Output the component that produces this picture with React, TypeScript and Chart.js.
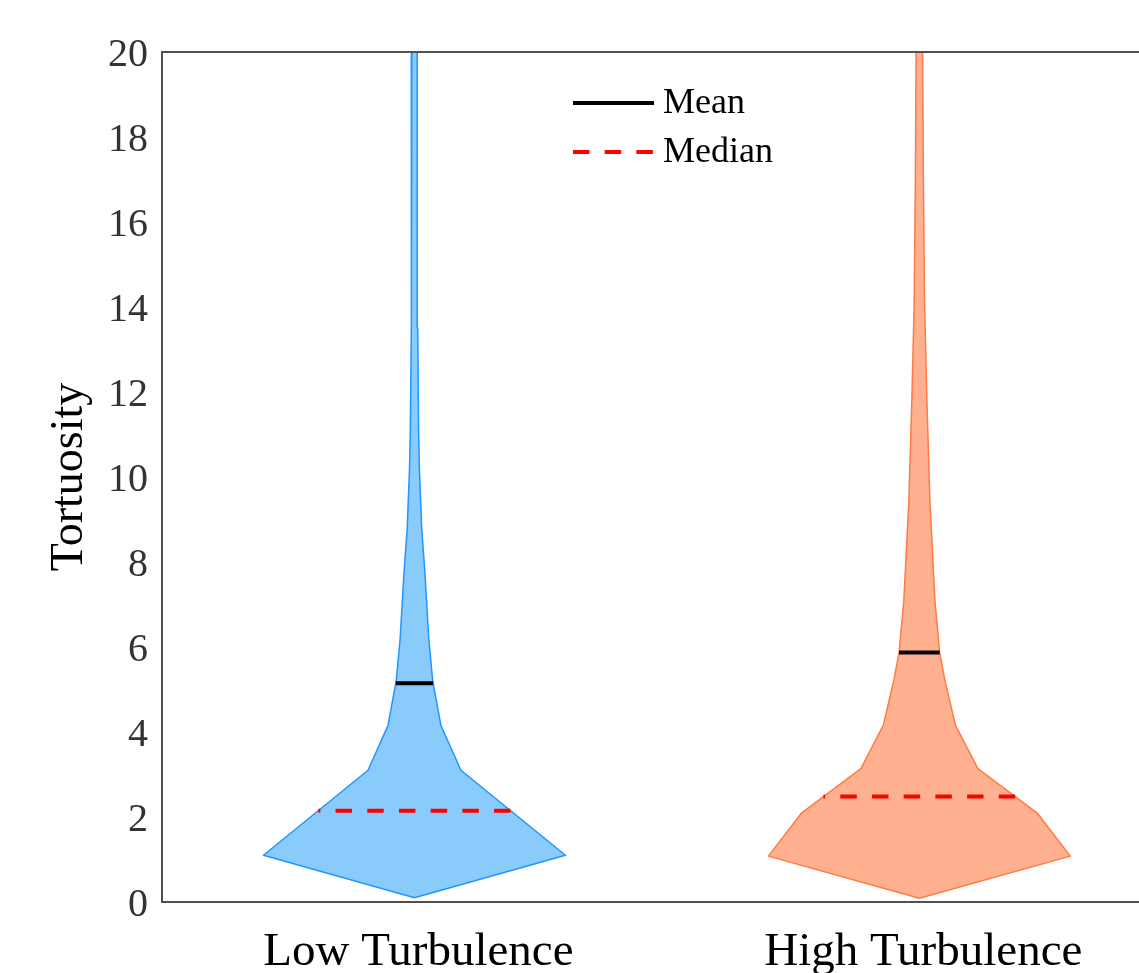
import { useEffect, useRef } from 'react';
import { Chart, registerables } from 'chart.js';

Chart.register(...registerables);

// ---------- data ----------
const categories = ['Low Turbulence', 'High Turbulence'];
const yAxisTitle = 'Tortuosity';
const legendLabels = ['Mean', 'Median'];

// violin outline: tortuosity levels and the half-width of the density (in category units)
const lowLevels = [0.1, 1.1, 3.1, 4.15, 5.2, 6.2, 7.8, 8.75, 10.2, 11.1, 13.5, 16, 20];
const lowHalfWidths = [0, 0.299, 0.092, 0.0525, 0.0362, 0.0283, 0.0205, 0.0145, 0.0098, 0.0082, 0.0066, 0.0058, 0.0052];
const highLevels = [0.09, 1.08, 2.09, 3.14, 4.16, 5.22, 5.87, 7.1, 9.46, 11.8, 14.07, 17, 20];
const highHalfWidths = [0, 0.299, 0.2337, 0.1158, 0.0713, 0.0505, 0.0402, 0.0307, 0.0208, 0.0149, 0.0103, 0.0079, 0.0065];

const means = [5.15, 5.87];
const medians = [2.15, 2.48];

const yMin = 0;
const yMax = 20;
const yStep = 2;

// ---------- styles ----------
const FONT = "'Liberation Serif', 'Times New Roman', serif";
const edgeColors = ['#2196ff', '#ff7a45'];
const fillColors = ['#89cbfb', '#ffb18f'];
const meanColor = '#000000';
const medianColor = '#ff0000';
const axisColor = '#505050';
const medianDash = [16.5, 15.2];

function outline(center: number, levels: number[], widths: number[]) {
  const right = levels.map((y, i) => ({ x: center + widths[i], y }));
  const left = levels.map((y, i) => ({ x: center - widths[i], y })).reverse();
  return [...right, ...left];
}

function widthAt(levels: number[], widths: number[], y: number) {
  for (let i = 0; i < levels.length - 1; i++) {
    if (y >= levels[i] && y <= levels[i + 1]) {
      const t = (y - levels[i]) / (levels[i + 1] - levels[i]);
      return widths[i] + t * (widths[i + 1] - widths[i]);
    }
  }
  return 0;
}

const frameTop = {
  id: 'frameTop',
  afterDatasetsDraw(chart: any) {
    const { ctx, chartArea: a } = chart;
    ctx.save();
    ctx.strokeStyle = axisColor;
    ctx.lineWidth = 2;
    ctx.beginPath();
    ctx.moveTo(a.left - 1, a.top);
    ctx.lineTo(a.right, a.top);
    ctx.stroke();
    ctx.restore();
  },
};

const innerLegend = {
  id: 'innerLegend',
  afterDatasetsDraw(chart: any) {
    const { ctx, chartArea: a } = chart;
    const x0 = a.left + 411;
    const x1 = a.left + 492;
    const tx = a.left + 501;
    const rows = [a.top + 51, a.top + 100];
    ctx.save();
    legendLabels.forEach((label, i) => {
      const ds = chart.data.datasets.find((d: any) => d.label === label);
      if (!ds) return;
      ctx.strokeStyle = ds.borderColor;
      ctx.lineWidth = ds.borderWidth;
      ctx.setLineDash(ds.borderDash || []);
      ctx.lineCap = 'butt';
      ctx.beginPath();
      ctx.moveTo(x0, rows[i]);
      ctx.lineTo(x1, rows[i]);
      ctx.stroke();
      ctx.setLineDash([]);
      ctx.fillStyle = '#000';
      ctx.font = `36px ${FONT}`;
      ctx.textAlign = 'left';
      ctx.textBaseline = 'middle';
      ctx.fillText(label, tx, rows[i] + 1);
    });
    ctx.restore();
  },
};

export default function App() {
  const ref = useRef<HTMLCanvasElement | null>(null);

  useEffect(() => {
    if (!ref.current) return;
    const profiles = [
      { levels: lowLevels, widths: lowHalfWidths },
      { levels: highLevels, widths: highHalfWidths },
    ];

    const datasets: any[] = [];
    categories.forEach((cat, i) => {
      const c = i + 1;
      const p = profiles[i];
      const wm = widthAt(p.levels, p.widths, means[i]);
      datasets.push({
        label: i === 0 ? 'Mean' : 'Mean ' + cat,
        data: [
          { x: c - wm, y: means[i] },
          { x: c + wm, y: means[i] },
        ],
        showLine: true,
        borderColor: meanColor,
        borderWidth: 4,
        pointRadius: 0,
        fill: false,
        order: 0,
      });
      const wd = widthAt(p.levels, p.widths, medians[i]);
      datasets.push({
        label: i === 0 ? 'Median' : 'Median ' + cat,
        data: [
          { x: c + wd, y: medians[i] },
          { x: c - wd, y: medians[i] },
        ],
        showLine: true,
        borderColor: medianColor,
        borderWidth: 4,
        borderDash: medianDash,
        pointRadius: 0,
        fill: false,
        order: 0,
      });
      datasets.push({
        label: cat,
        data: outline(c, p.levels, p.widths),
        showLine: true,
        borderColor: edgeColors[i],
        backgroundColor: fillColors[i],
        borderWidth: 1.5,
        borderJoinStyle: 'round',
        pointRadius: 0,
        tension: 0,
        fill: 'shape',
        order: 1,
      });
    });

    const chart = new Chart(ref.current, {
      type: 'scatter',
      data: { datasets },
      plugins: [frameTop, innerLegend],
      options: {
        animation: false,
        responsive: false,
        devicePixelRatio: 1,
        events: [],
        layout: { padding: { left: 0, top: 52, right: 0, bottom: 0 } },
        plugins: {
          legend: { display: false },
          tooltip: { enabled: false },
        },
        scales: {
          x: {
            type: 'linear',
            min: 0.5,
            max: 2.435,
            grid: { display: false, drawTicks: false },
            border: { display: true, color: axisColor, width: 2 },
            afterFit: (s: any) => {
              s.height = 71;
            },
            afterBuildTicks: (s: any) => {
              s.ticks = categories.map((_, i) => ({ value: i + 1 }));
            },
            ticks: {
              autoSkip: false,
              maxRotation: 0,
              padding: 22,
              labelOffset: 4,
              color: '#000',
              font: { family: FONT, size: 47 },
              callback: (v: any) => categories[Math.round(Number(v)) - 1] ?? '',
            },
          },
          y: {
            type: 'linear',
            min: yMin,
            max: yMax,
            grid: { display: false, drawTicks: false },
            border: { display: true, color: axisColor, width: 2 },
            afterFit: (s: any) => {
              s.width = 162;
            },
            ticks: {
              stepSize: yStep,
              padding: 14,
              labelOffset: 3,
              color: '#333333',
              font: { family: FONT, size: 40 },
            },
            title: {
              display: true,
              text: yAxisTitle,
              color: '#000',
              font: { family: FONT, size: 46 },
              padding: { top: 42, bottom: 0 },
            },
          },
        },
      },
    });
    return () => chart.destroy();
  }, []);

  return (
    <div style={{ position: 'fixed', left: 0, top: 0, width: 1139, height: 973, background: '#fff' }}>
      <canvas ref={ref} width={1139} height={973} style={{ display: 'block' }} />
    </div>
  );
}
